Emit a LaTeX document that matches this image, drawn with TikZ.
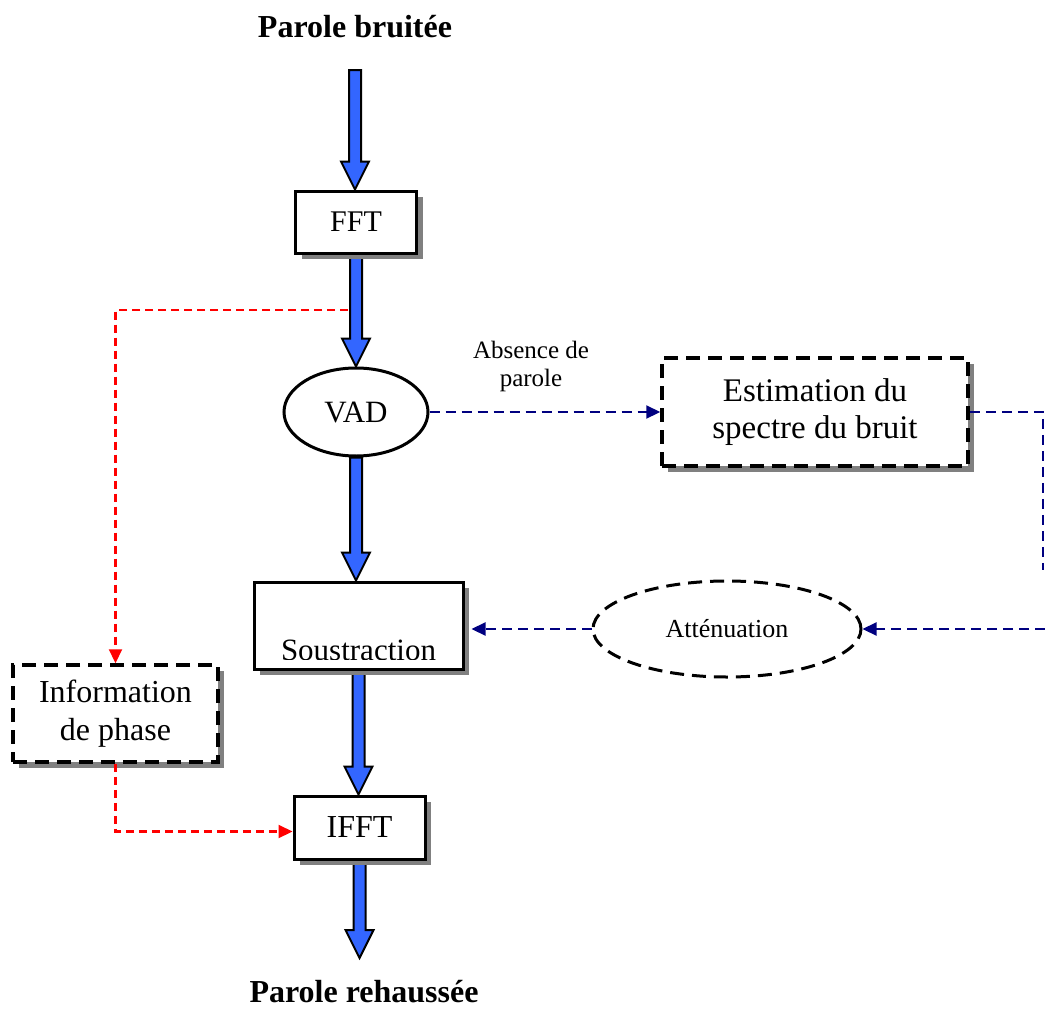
\documentclass[tikz,border=0pt]{standalone}
\usepackage{fontspec}
\setmainfont{Liberation Serif}
\usetikzlibrary{arrows.meta,shapes.geometric,shadows,backgrounds,calc}

\definecolor{flowblue}{RGB}{51,102,255}
\definecolor{ctrlnavy}{RGB}{0,0,128}
\definecolor{phasered}{RGB}{255,0,0}

\tikzset{
  boxshadow/.style={drop shadow={shadow xshift=6pt,shadow yshift=-6pt,fill=black!50,opacity=1}},
  solidbox/.style={rectangle,draw,line width=3pt,fill=white,inner sep=0pt,boxshadow,
                   font=\fontsize{32}{38}\selectfont},
  dashbox/.style={rectangle,draw,line width=3.5pt,dash pattern=on 14pt off 8pt,fill=white,
                  inner sep=0pt,boxshadow,align=center},
  fatarrow/.style={fill=flowblue,draw=black,line width=2pt,line join=miter},
  redlink/.style={draw=phasered,line width=2.2pt,dash pattern=on 8pt off 5pt,
                  -{Triangle[length=14pt,width=13pt]}},
  navylink/.style={draw=ctrlnavy,line width=2.2pt,dash pattern=on 10pt off 6pt,
                   -{Triangle[length=14pt,width=13pt]}},
  plainnavy/.style={draw=ctrlnavy,line width=2.2pt,dash pattern=on 10pt off 6pt},
  heading/.style={font=\bfseries\fontsize{32}{38}\selectfont},
}

% wide blue arrow pointing down, from #1 to the tip level of #2
\newcommand\flowarrow[2]{%
  \path[fatarrow] let \p1=(#1), \p2=(#2) in
    (\x1-6pt,\y1) -- (\x1+6pt,\y1) -- (\x1+6pt,\y2+28pt) -- (\x1+14pt,\y2+28pt)
    -- (\x1,\y2) -- (\x1-14pt,\y2+28pt) -- (\x1-6pt,\y2+28pt) -- cycle;}

\begin{document}
\begin{tikzpicture}[x=1pt,y=-1pt]
\useasboundingbox (0,0) rectangle (1045,1009);

% titles
\node[heading] (input) at (355,27) {Parole bruitée};
\node[heading] (output) at (364,992) {Parole rehaussée};

% processing blocks
\node[solidbox,minimum width=121pt,minimum height=62pt,font=\fontsize{30}{36}\selectfont] (fft) at (356,222) {FFT};
\node[ellipse,draw,line width=3pt,fill=white,minimum width=144pt,minimum height=88pt,inner sep=0pt,
      font=\fontsize{31}{36}\selectfont] (vad) at (356,412) {VAD};
\node[solidbox,minimum width=209pt,minimum height=87pt] (soust) at (358.5,625.5) {};
\begin{scope}
  \clip (254,582) rectangle (463,659);
  \node[anchor=base,font=\fontsize{31}{36}\selectfont] (sousttext) at (358.5,660) {Soustraction};
\end{scope}
\node[solidbox,minimum width=131pt,minimum height=63pt] (ifft) at (359.5,827.5) {IFFT};
\node[dashbox,minimum width=205pt,minimum height=97pt,font=\fontsize{32}{38}\selectfont] (info) at (115.5,713.5) {Information\\de phase};
\node[dashbox,minimum width=306pt,minimum height=108pt,font=\fontsize{33}{37}\selectfont] (est) at (815,412) {Estimation du\\spectre du bruit};
\node[ellipse,draw,line width=3pt,dash pattern=on 14pt off 8pt,minimum width=268pt,minimum height=96pt,
      inner sep=0pt,font=\fontsize{26}{30}\selectfont] (att) at (727,629) {Atténuation};
\node[font=\fontsize{25}{28}\selectfont,align=center] (absence) at (531,366) {Absence de\\parole};

% free ends of connectors
\coordinate (instart) at (355,70);
\coordinate (outtip) at (362,958);
\coordinate (redstart) at (348,310);
\coordinate (rightdown) at (1043,570);
\coordinate (rightin) at (1045,629);

% main signal path
\begin{scope}[on background layer]
  \flowarrow{instart}{fft.north}
  \flowarrow{fft.south}{vad.north}
  \flowarrow{vad.south}{soust.north}
  \flowarrow{soust.south}{ifft.north}
  \flowarrow{ifft.south}{outtip}
\end{scope}

% phase information path
\draw[redlink] (redstart) -| (info.north);
\draw[redlink] (info.south) |- ([yshift=-4pt]ifft.west);

% noise estimation path
\draw[navylink] (vad.east) -- (vad.east -| est.west);
\draw[plainnavy] (est.east) -| (rightdown);
\draw[navylink] (rightin) -- (att.east);
\draw[navylink] (att.west) -- ([xshift=7pt]att.west -| soust.east);
\end{tikzpicture}
\end{document}
